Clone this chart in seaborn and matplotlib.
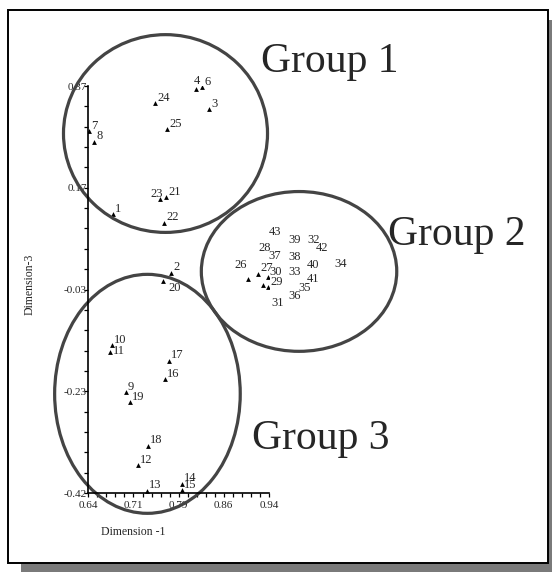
import numpy as np
import seaborn as sns
import matplotlib.pyplot as plt
from matplotlib.patches import Ellipse, Rectangle
from matplotlib.ticker import AutoMinorLocator

# point numbers and their coordinates on dimension 1 / dimension 3
point_ids = [1, 2, 3, 4, 6, 7, 8, 9, 10, 11, 12, 13, 14, 15, 16, 17, 18, 19, 20,
             21, 22, 23, 24, 25, 26, 27, 28, 29, 30, 31, 32, 33, 34, 35, 36, 37,
             38, 39, 40, 41, 42, 43]
dim1 = [0.6805, 0.7774, 0.8410, 0.8184, 0.8289, 0.6407, 0.6500, 0.7026, 0.6799,
        0.6760, 0.7226, 0.7370, 0.7951, 0.7951, 0.7679, 0.7735, 0.7392, 0.7093,
        0.7646, 0.7691, 0.7662, 0.7591, 0.7513, 0.7712, 0.9058, 0.9224, 0.9468,
        0.9390, 0.9380, 0.9307, 1.0001, 0.9695, 1.0454, 0.9852, 0.9695, 0.9468,
        0.9695, 0.9695, 1.0001, 1.0001, 1.0151, 0.9468]
dim3 = [0.1215, 0.0076, 0.3248, 0.3636, 0.3680, 0.2826, 0.2619, -0.2245, -0.1327,
        -0.1457, -0.3657, -0.4161, -0.4020, -0.4142, -0.1993, -0.1632, -0.3282,
        -0.2440, -0.0079, 0.1545, 0.1047, 0.1512, 0.3364, 0.2860, -0.0046, 0.0057,
        0.0454, -0.0207, -0.0013, -0.0163, 0.0604, -0.0011, 0.0138, -0.0328,
        -0.0483, 0.0293, 0.0274, 0.0604, 0.0125, -0.0159, 0.0443, 0.0759]

x_ticks = [0.64, 0.715, 0.79, 0.865, 0.94]
x_tick_labels = ["0.64", "0.71", "0.79", "0.86", "0.94"]
y_ticks = [-0.42, -0.2225, -0.025, 0.1725, 0.37]
y_tick_labels = ["-0.42", "-0.23", "-0.03", "0.17", "0.37"]

group_names = ["Group 1", "Group 2", "Group 3"]

# label shifts in pixels (right, down) where the label is not at the default spot
label_shift = {4: (-2.3, -8), 11: (3.4, -1), 20: (5.1, 7.6), 23: (-10, -5),
               26: (-14, -14), 28: (-14.5, -5.5), 31: (8.1, 18),
               37: (-4.5, -5.5), 43: (-4.5, -5.5)}

sns.set_style("ticks")
plt.rcParams['font.family'] = ['Liberation Serif', 'DejaVu Serif']

fig = plt.figure(figsize=(5.52, 5.72), dpi=100)

# framed border with drop shadow
fig.add_artist(Rectangle((21 / 552, -0.01), 545 / 552, 1 - 20 / 572 + 0.01,
                         transform=fig.transFigure, facecolor="#7a7a7a",
                         edgecolor="none", zorder=-3))
fig.add_artist(Rectangle((8 / 552, 1 - 563 / 572), 540.3 / 552, 553 / 572,
                         transform=fig.transFigure, facecolor="white",
                         edgecolor="black", linewidth=1.4, zorder=-2))

ax = fig.add_axes([0.16, 0.1381, 0.3272, 0.7115])
ax.patch.set_alpha(0)

sns.scatterplot(x=dim1, y=dim3, marker="^", s=12, color="black",
                linewidth=0, ax=ax, clip_on=True)

for n, x, y in zip(point_ids, dim1, dim3):
    dx, dy = label_shift.get(n, (2, -5.5))
    ax.annotate(str(n), (x, y), xytext=(dx, -dy), textcoords="offset pixels",
                ha="left", va="center", fontsize=9, annotation_clip=False)

# group outlines
ellipses = [((0.7682, 0.2778), 0.3389, 0.3839),
            ((0.9900, 0.0101), 0.3246, 0.3102),
            ((0.7382, -0.2275), 0.3083, 0.4639)]
for (c, w, h) in ellipses:
    ax.add_patch(Ellipse(c, w, h, fill=False, edgecolor="#444444",
                         linewidth=2.3, clip_on=False))

group_pos = [(260.7, 72.3), (388, 245.5), (252.5, 449.5)]
for name, (px, py) in zip(group_names, group_pos):
    fig.text(px / 552, 1 - py / 572, name, ha="left", va="baseline",
             fontsize=30)

ax.set_xlim(0.64, 0.94)
ax.set_ylim(-0.42, 0.37)
ax.set_xticks(x_ticks)
ax.set_xticklabels(x_tick_labels)
ax.set_yticks(y_ticks)
ax.set_yticklabels(y_tick_labels)
ax.xaxis.set_minor_locator(AutoMinorLocator(5))
ax.yaxis.set_minor_locator(AutoMinorLocator(5))
ax.tick_params(which="both", direction="out", length=3, width=0.9,
               color="black", labelsize=8)
ax.tick_params(axis="y", which="major", pad=-2)
ax.tick_params(axis="x", which="major", pad=3)
sns.despine(ax=ax)
for s in ["left", "bottom"]:
    ax.spines[s].set_color("black")
    ax.spines[s].set_linewidth(1.2)

ax.set_xlabel("Dimension -1", fontsize=8.5)
ax.set_ylabel("Dimension-3", fontsize=8.5)
ax.xaxis.set_label_coords(0.247, -0.081)
ax.yaxis.set_label_coords(-0.29, 0.512)

fig.savefig("out.png", dpi=100)
